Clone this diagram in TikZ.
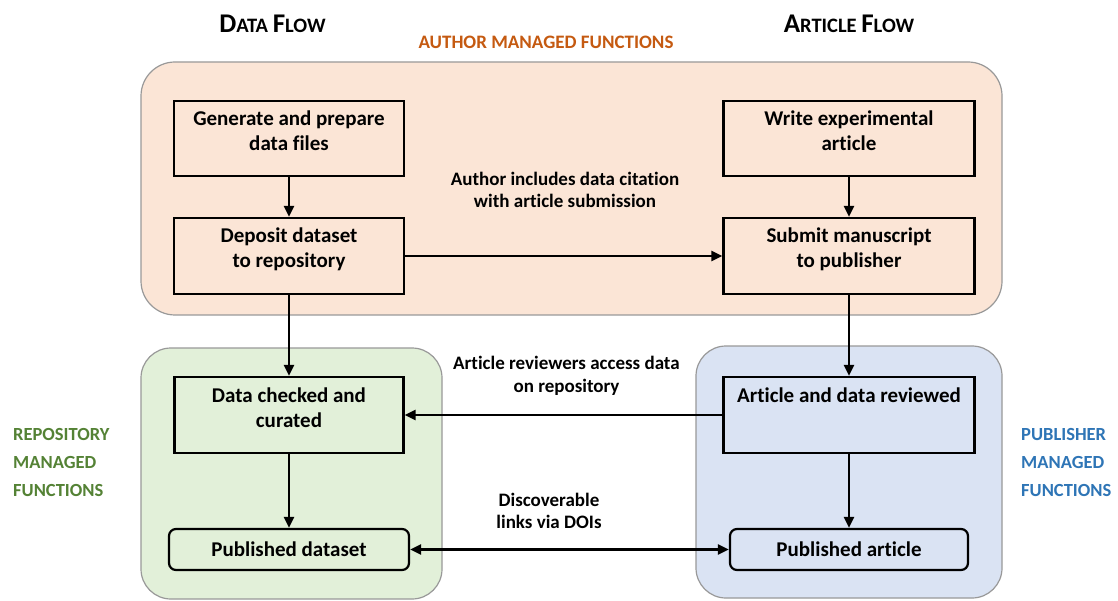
\documentclass[tikz,border=0pt]{standalone}
\usepackage{fontspec}
\setmainfont{Carlito}[Ligatures=NoCommon]
\usetikzlibrary{arrows.meta}
\definecolor{orfill}{HTML}{FBE5D6}
\definecolor{grfill}{HTML}{E2F0D9}
\definecolor{blfill}{HTML}{DAE3F3}
\definecolor{ortext}{HTML}{C55A11}
\definecolor{grtext}{HTML}{548235}
\definecolor{bltext}{HTML}{2E75B6}
\definecolor{panelline}{HTML}{999999}
\begin{document}
\begin{tikzpicture}[x=1pt,y=-1pt,
  panel/.style={draw=panelline,line width=1.2pt,rounded corners=34pt},
  box/.style={draw=black,line width=2.2pt,inner sep=0pt},
  pubbox/.style={box,rounded corners=7pt},
  txt/.style={align=center,inner sep=0pt,font=\bfseries\fontsize{21}{25}\selectfont},
  lbl/.style={align=center,inner sep=0pt,font=\bfseries\fontsize{19}{22.5}\selectfont},
  side/.style={align=left,anchor=west,inner sep=0pt,font=\bfseries\fontsize{18.5}{28}\selectfont},
  title/.style={inner sep=0pt,font=\bfseries\fontsize{20.5}{30}\selectfont},
  arr/.style={line width=2.2pt,-{Triangle[length=11pt,width=10pt]}},
  darr/.style={line width=2.2pt,{Triangle[length=11pt,width=10pt]}-{Triangle[length=11pt,width=10pt]}}]
\useasboundingbox (0,0) rectangle (1118,601);
% panels
\fill[white] (0,0) rectangle (1118,601);
\draw[panel,fill=orfill] (141,62) rectangle (1002,315);
\draw[panel,fill=grfill,rounded corners=30pt] (141,348) rectangle (442,599);
\draw[panel,fill=blfill,rounded corners=30pt] (696,346) rectangle (1002,598);
% titles
\node[title] (tdata) at (272.5,24) {{\fontsize{27}{30}\selectfont D}ATA {\fontsize{27}{30}\selectfont F}LOW};
\node[title] (tart) at (849,24) {{\fontsize{27}{30}\selectfont A}RTICLE {\fontsize{27}{30}\selectfont F}LOW};
\node[inner sep=0pt,text=ortext,font=\bfseries\fontsize{19}{22}\selectfont] (tauth) at (546,42) {AUTHOR MANAGED FUNCTIONS};
% boxes
\node[box,minimum width=230pt,minimum height=75pt] (gen) at (289,138.5) {};
\node[txt] (gentxt) at (289,130.5) {Generate and prepare\\data files};
\node[box,minimum width=251pt,minimum height=75pt] (wri) at (849,138.5) {};
\node[txt] (writxt) at (849,130.5) {Write experimental\\article};
\node[box,minimum width=230pt,minimum height=76pt] (dep) at (289,256) {};
\node[txt] (deptxt) at (289,249.5) {Deposit dataset\\to repository};
\node[box,minimum width=251pt,minimum height=76pt] (sub) at (849,256) {};
\node[txt] (subtxt) at (849,249.5) {Submit manuscript\\to publisher};
\node[box,minimum width=229pt,minimum height=76pt] (chk) at (289,415) {};
\node[txt] (chktxt) at (289,407.5) {Data checked and\\curated};
\node[box,minimum width=251pt,minimum height=76pt] (rev) at (849,415) {};
\node[txt] (revtxt) at (849,395) {Article and data reviewed};
\node[pubbox,minimum width=240pt,minimum height=41pt] (pds) at (289,549.5) {};
\node[txt] (pdstxt) at (289,549) {Published dataset};
\node[pubbox,minimum width=238pt,minimum height=41pt] (pa) at (849,549.5) {};
\node[txt] (patxt) at (849,549) {Published article};
% labels
\node[lbl] (l1) at (565,190) {Author includes data citation\\with article submission};
\node[lbl] (l2) at (566.5,376) {Article reviewers access data\\on repository};
\node[lbl] (l3) at (549,511) {Discoverable\\links via DOIs};
\node[side,text=grtext] (lrep) at (13,462) {REPOSITORY\\MANAGED\\FUNCTIONS};
\node[side,text=bltext] (lpub) at (1021,462) {PUBLISHER\\MANAGED\\FUNCTIONS};
% connectors
\draw[arr] (gen) -- (dep);
\draw[arr] (wri) -- (sub);
\draw[arr] (dep.east) -- (sub.west);
\draw[arr] (dep.south) -- (dep.south |- chk.north);
\draw[arr] (sub.south) -- (sub.south |- rev.north);
\draw[arr] (rev.west) -- (chk.east);
\draw[arr] (chk.south) -- (chk.south |- pds.north);
\draw[arr] (rev.south) -- (rev.south |- pa.north);
\draw[darr] (pds.east) -- (pa.west);
\end{tikzpicture}
\end{document}
